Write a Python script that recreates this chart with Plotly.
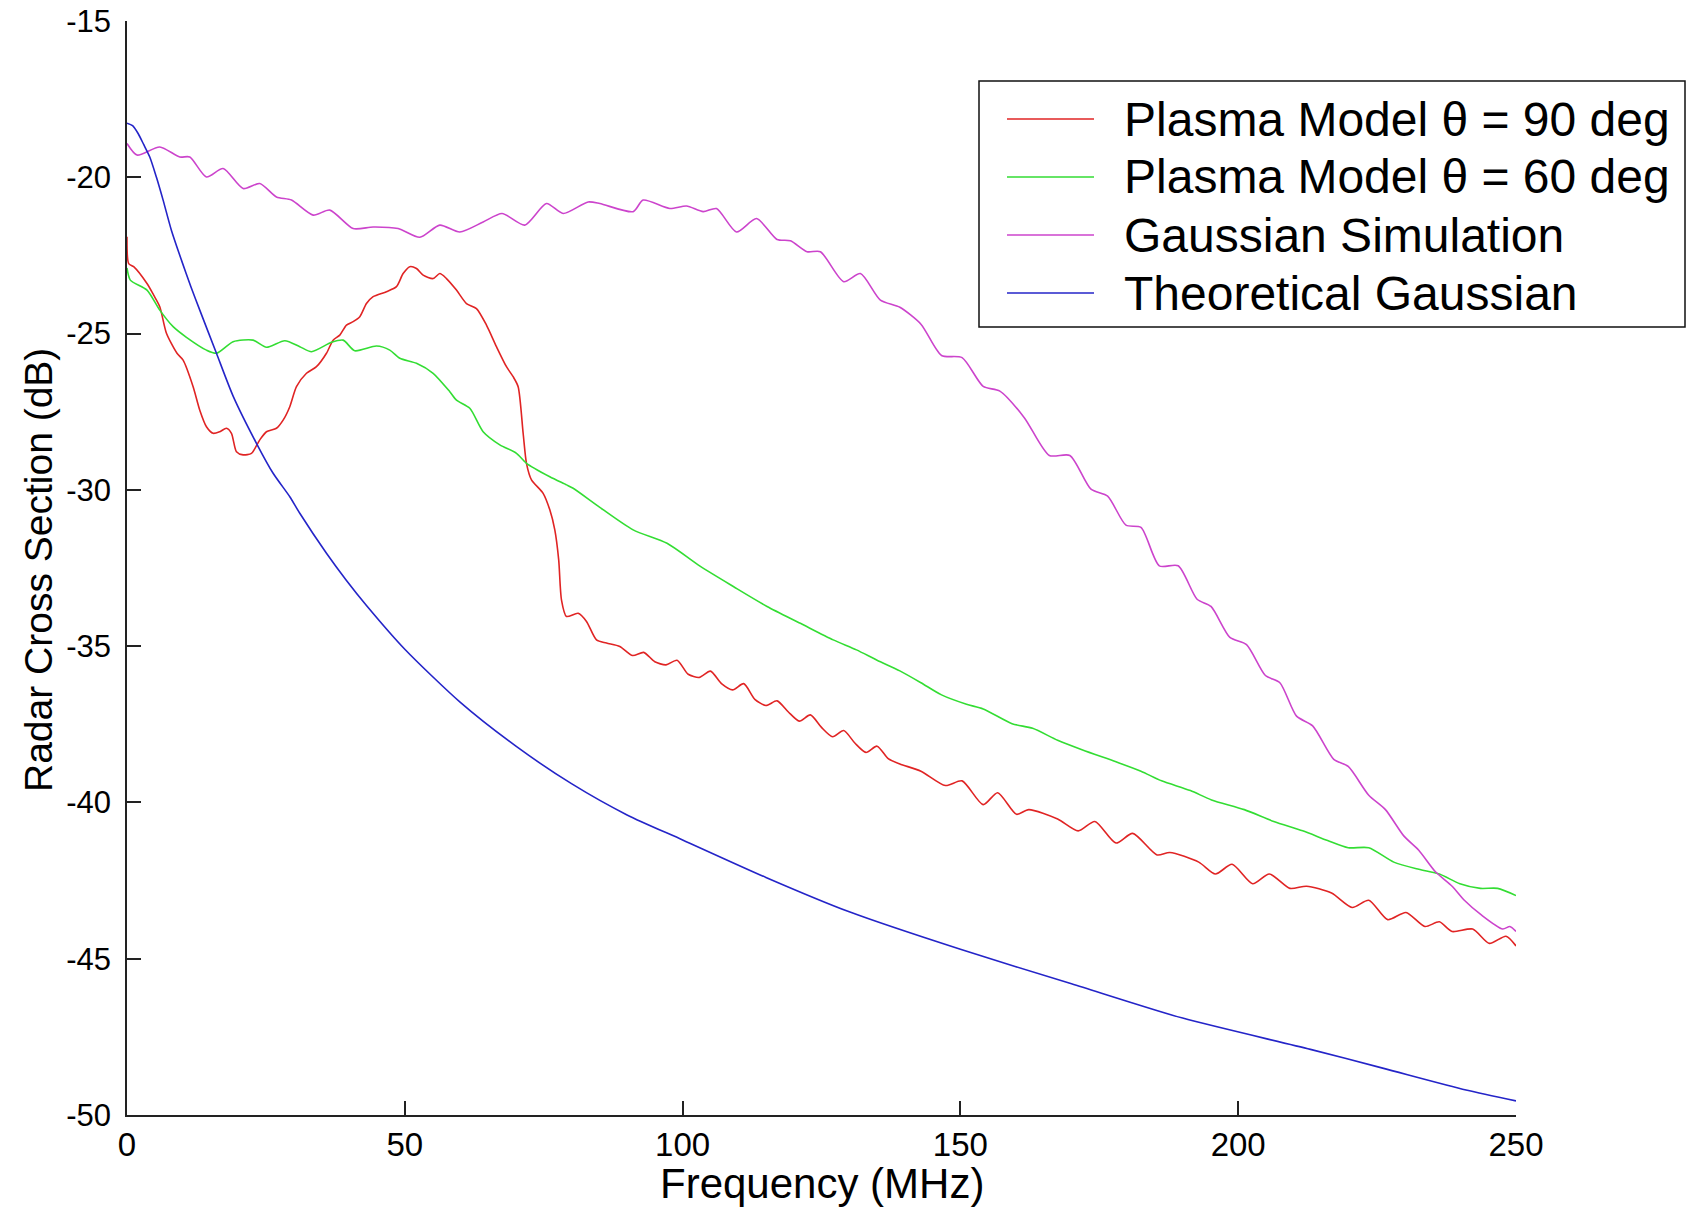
import plotly.graph_objects as go

# ---------------- data ----------------
red_x = [0, 0.3, 1.2, 3.6, 4.8, 5.9, 7.1, 9.0, 10.1, 11.9, 13.1, 14.3, 15.5, 16.7, 17.9, 18.8,
         19.7, 20.9, 22.4, 23.9, 25.1, 26.9, 28.1, 29.3, 30.5, 32.3, 34.1, 35.9, 37.1, 38.3,
         39.5, 40.7, 41.9, 43.1, 44.3, 46.7, 48.5, 49.7, 50.9, 52.1, 53.3, 55.1, 56.3, 57.5,
         59.3, 61.1, 62.9, 64.7, 66.5, 68.3, 69.5, 70.4, 71.3, 71.9, 72.8, 74.9, 76.1, 77.0,
         77.7, 78.2, 79.1, 81.2, 82.7, 84.5, 86.3, 88.7, 91, 93, 95, 97, 99, 101, 103, 105,
         107, 109, 111, 113, 115, 117, 119, 121, 123, 125, 127, 129, 131, 133, 135, 137, 139.1,
         142.9, 147.3, 150.3, 154.1, 156.7, 160.1, 162.3, 167.5, 171.2, 174.2, 178.0, 181.0,
         185.4, 187.7, 192.9, 195.9, 198.9, 202.6, 205.6, 209.3, 212.3, 216.8, 220.5, 223.5,
         226.9, 230.2, 233.6, 236.2, 238.5, 242.2, 245.2, 248.2, 250]
red_y = [-21.9, -22.76, -22.86, -23.4, -23.77, -24.14, -24.99, -25.63, -25.85, -26.7, -27.45,
         -27.98, -28.19, -28.14, -28.03, -28.19, -28.78, -28.88, -28.83, -28.4, -28.14, -28.03,
         -27.77, -27.34, -26.7, -26.27, -26.06, -25.63, -25.21, -25.05, -24.73, -24.62, -24.46,
         -24.04, -23.82, -23.66, -23.5, -23.08, -22.86, -22.92, -23.13, -23.24, -23.08, -23.24,
         -23.61, -24.04, -24.2, -24.73, -25.42, -26.06, -26.38, -26.7, -28.19, -29.15, -29.68,
         -30.11, -30.64, -31.28, -32.24, -33.52, -34.05, -33.95, -34.21, -34.8, -34.9, -35.01,
         -35.3, -35.2, -35.5, -35.6, -35.45, -35.9, -36.0, -35.8, -36.2, -36.4, -36.2, -36.7,
         -36.9, -36.75, -37.1, -37.4, -37.2, -37.6, -37.9, -37.7, -38.1, -38.4, -38.2, -38.6,
         -38.77, -39.0, -39.46, -39.31, -40.07, -39.69, -40.38, -40.23, -40.53, -40.91, -40.61,
         -41.3, -40.99, -41.68, -41.6, -41.91, -42.29, -41.98, -42.6, -42.29, -42.75, -42.68,
         -42.9, -43.36, -43.13, -43.75, -43.52, -43.97, -43.82, -44.13, -44.05, -44.51, -44.28,
         -44.59]

green_x = [0, 0.6, 3.6, 5.9, 8.3, 10.7, 14.3, 16.1, 19.1, 22.7, 25.1, 28.4, 31.1, 33.2, 36.8,
           38.9, 41.0, 44.9, 47.3, 49.1, 52.1, 55.1, 58.1, 59.3, 61.7, 64.1, 67.1, 70.1, 71.9,
           76.1, 79.1, 80.3, 85.1, 91.1, 97.2, 103.2, 109.2, 115.2, 121.2, 127.1, 131.3, 135,
           139.1, 142.9, 146.6, 151.1, 154.1, 159.3, 163.0, 167.5, 172.0, 178.0, 182.5, 186.2,
           191.4, 195.2, 201.1, 206.4, 211.6, 216.1, 219.8, 223.5, 228.0, 232.5, 236.2, 239.9,
           243.6, 246.7, 250]
green_y = [-22.9, -23.29, -23.61, -24.25, -24.78, -25.12, -25.53, -25.63, -25.26, -25.21,
           -25.44, -25.23, -25.42, -25.58, -25.28, -25.21, -25.55, -25.4, -25.53, -25.79,
           -25.95, -26.27, -26.86, -27.13, -27.39, -28.14, -28.56, -28.83, -29.15, -29.58,
           -29.84, -29.95, -30.56, -31.28, -31.71, -32.45, -33.1, -33.73, -34.27, -34.8,
           -35.12, -35.45, -35.79, -36.17, -36.56, -36.86, -37.01, -37.48, -37.63, -38.01,
           -38.32, -38.7, -39.0, -39.31, -39.62, -39.92, -40.23, -40.61, -40.91, -41.22,
           -41.45, -41.45, -41.91, -42.14, -42.29, -42.6, -42.75, -42.75, -42.98]

magenta_x = [0, 1.8, 5.9, 9.5, 11.3, 14.3, 17.3, 20.9, 23.9, 26.9, 29.6, 33.5, 36.5, 40.7, 44.3,
             48.8, 52.7, 56.3, 59.9, 64.1, 67.5, 71.6, 75.5, 78.5, 83.0, 85.1, 91.1, 92.9, 97.7,
             100.7, 103.7, 106.1, 109.7, 113.3, 117.0, 119.4, 122.4, 124.8, 129.0, 132.0, 135.6,
             139.1, 142.9, 146.6, 150.3, 154.1, 157.1, 161.5, 166.0, 169.7, 173.5, 176.5, 179.8,
             182.5, 185.8, 189.2, 192.6, 195.1, 198.5, 201.5, 204.9, 207.5, 210.5, 213.4, 217.2,
             219.8, 223.5, 226.5, 229.8, 232.5, 235.5, 238.5, 240.7, 243.7, 247.6, 248.9, 250]
magenta_y = [-18.92, -19.29, -19.03, -19.35, -19.35, -19.99, -19.72, -20.36, -20.2, -20.63,
             -20.73, -21.21, -21.05, -21.64, -21.59, -21.64, -21.92, -21.53, -21.75, -21.43,
             -21.16, -21.53, -20.84, -21.16, -20.79, -20.84, -21.1, -20.73, -21.0, -20.92,
             -21.1, -21.0, -21.75, -21.32, -21.99, -22.03, -22.38, -22.38, -23.34, -23.08,
             -23.93, -24.16, -24.7, -25.7, -25.77, -26.69, -26.84, -27.69, -28.9, -28.9,
             -29.98, -30.2, -31.13, -31.2, -32.43, -32.43, -33.5, -33.73, -34.72, -34.95,
             -35.94, -36.17, -37.24, -37.55, -38.62, -38.85, -39.77, -40.23, -41.07, -41.53,
             -42.22, -42.68, -43.13, -43.59, -44.05, -43.97, -44.13]

blue_x = [0, 1.0, 2.0, 3.0, 4.1, 5.3, 6.5, 8.0, 9.8, 11.5, 13.1, 16.1, 19.1, 23.3, 26.3, 29.3,
          31.1, 35.9, 39.5, 43.1, 50, 60, 70, 80, 90, 100, 115, 130, 150, 170, 190, 213, 226,
          241, 250]
blue_y = [-18.27, -18.35, -18.6, -18.95, -19.35, -20.0, -20.73, -21.7, -22.65, -23.5, -24.25,
          -25.63, -27.0, -28.51, -29.47, -30.22, -30.75, -32.03, -32.9, -33.7, -35.1, -36.8,
          -38.2, -39.4, -40.4, -41.2, -42.4, -43.5, -44.7, -45.8, -46.9, -47.9, -48.5, -49.2,
          -49.55]

series_names = ["Plasma Model \u03b8 = 90 deg", "Plasma Model \u03b8 = 60 deg",
                "Gaussian Simulation", "Theoretical Gaussian"]
series_colors = ["#e02424", "#33dd33", "#cc44cc", "#2424c8"]

x_ticks = [0, 50, 100, 150, 200, 250]
y_ticks = [-50, -45, -40, -35, -30, -25, -20, -15]

# ---------------- figure ----------------
FONT = "Arial, 'Liberation Sans', sans-serif"
fig = go.Figure()
for xs, ys, name, col in zip([red_x, green_x, magenta_x, blue_x],
                             [red_y, green_y, magenta_y, blue_y],
                             series_names, series_colors):
    fig.add_trace(go.Scatter(x=xs, y=ys, mode="lines", name=name,
                             line=dict(color=col, width=1.6, shape="spline", smoothing=0.7),
                             showlegend=False))

W, H = 1700, 1213
L, R, T, B = 127, 184, 21, 98
pw, ph = W - L - R, H - T - B

def px(X):
    return (X - L) / pw

def py(Y):
    return (H - B - Y) / ph

# custom legend (box, line samples, labels)
shapes = [dict(type="rect", xref="paper", yref="paper", x0=px(979), x1=px(1685),
               y0=py(327), y1=py(81), line=dict(color="#111", width=1.5),
               fillcolor="white", layer="above")]
annotations = []
rows = [119, 177, 235, 293]
for row, name, col in zip(rows, series_names, series_colors):
    shapes.append(dict(type="line", xref="paper", yref="paper", x0=px(1007), x1=px(1094),
                       y0=py(row), y1=py(row), line=dict(color=col, width=1.6), layer="above"))
    annotations.append(dict(xref="paper", yref="paper", x=px(1122), y=py(row),
                            xanchor="left", yanchor="middle", text=name, showarrow=False,
                            font=dict(family=FONT, size=48, color="black")))

# axis titles
annotations.append(dict(xref="paper", yref="paper", x=0.5, y=py(1183), xanchor="center",
                        yanchor="middle", text="Frequency (MHz)", showarrow=False,
                        font=dict(family=FONT, size=42, color="black")))
annotations.append(dict(xref="paper", yref="paper", x=px(38), y=py(570), xanchor="center",
                        yanchor="middle", text="Radar Cross Section (dB)", showarrow=False,
                        textangle=-90, font=dict(family=FONT, size=39, color="black")))

fig.update_layout(
    width=W, height=H,
    margin=dict(l=L, r=R, t=T, b=B, pad=0, autoexpand=False),
    paper_bgcolor="white", plot_bgcolor="white",
    font=dict(family=FONT, size=30, color="black"),
    shapes=shapes, annotations=annotations,
    showlegend=False,
)
fig.update_xaxes(range=[0, 250], tickvals=x_ticks, ticktext=[str(v) for v in x_ticks],
                 showgrid=False, zeroline=False, showline=True, linecolor="#222", linewidth=1.5,
                 mirror=False, ticks="inside", ticklen=14, tickwidth=1.5, tickcolor="#222",
                 tickfont=dict(family=FONT, size=33, color="black"), ticklabelstandoff=0,
                 automargin=False)
fig.update_yaxes(range=[-50, -15], tickvals=y_ticks, ticktext=[str(v) for v in y_ticks],
                 showgrid=False, zeroline=False, showline=True, linecolor="#222", linewidth=1.5,
                 mirror=False, ticks="inside", ticklen=14, tickwidth=1.5, tickcolor="#222",
                 tickfont=dict(family=FONT, size=31, color="black"), ticklabelstandoff=8,
                 automargin=False)

fig.write_html("out.html")
